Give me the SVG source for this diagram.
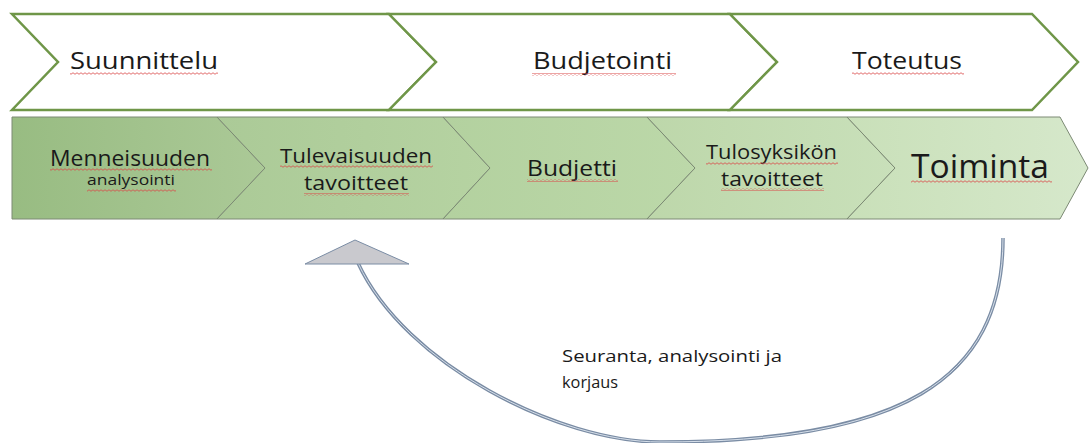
<svg xmlns="http://www.w3.org/2000/svg" width="1089" height="443" viewBox="0 0 1089 443">
<style>
.top{fill:#ffffff;stroke:#6f9648;stroke-width:2.5;stroke-linejoin:miter}
.bot{stroke:#7c8a74;stroke-width:1}
.t{font-family:"Open Sans","Liberation Sans",sans-serif;fill:#1a1a1a}
.sq{fill:url(#wavy)}
.conn{fill:none;stroke:#7a8ca4;stroke-width:3.5}
.connIn{fill:none;stroke:#d6dfea;stroke-width:1}
</style>
<defs>
<pattern id="wavy" patternUnits="userSpaceOnUse" width="4" height="3">
<path d="M0,1.5 Q1,0 2,1.5 T4,1.5" fill="none" stroke="#d94848" stroke-width="0.8"/>
</pattern>
<linearGradient id="g1" x1="0" y1="0" x2="1" y2="0"><stop offset="0" stop-color="#98bc82"/><stop offset="1" stop-color="#abc997"/></linearGradient>
<linearGradient id="g2" x1="0" y1="0" x2="1" y2="0"><stop offset="0" stop-color="#abca97"/><stop offset="1" stop-color="#b6d3a2"/></linearGradient>
<linearGradient id="g3" x1="0" y1="0" x2="1" y2="0"><stop offset="0" stop-color="#b3d19f"/><stop offset="1" stop-color="#bcd8a9"/></linearGradient>
<linearGradient id="g4" x1="0" y1="0" x2="1" y2="0"><stop offset="0" stop-color="#bdd7aa"/><stop offset="1" stop-color="#c9e0ba"/></linearGradient>
<linearGradient id="g5" x1="0" y1="0" x2="1" y2="0"><stop offset="0" stop-color="#c9e0b9"/><stop offset="1" stop-color="#d6e8cb"/></linearGradient>
</defs>
<rect width="1089" height="443" fill="#ffffff"/>

<g id="suunnittelu">
<polygon class="top" points="12,14 389,14 436,62 389,110 12,110 58,62"/>
<text class="t" x="70" y="69" font-size="24" textLength="148" lengthAdjust="spacingAndGlyphs">Suunnittelu</text>
<rect class="sq" x="70" y="72" width="148" height="3"/>
</g>
<g id="budjetointi">
<polygon class="top" points="389,14 730,14 777,62 730,110 389,110 436,62"/>
<text class="t" x="533" y="69" font-size="24" textLength="139" lengthAdjust="spacingAndGlyphs">Budjetointi</text>
<rect class="sq" x="532" y="73" width="144" height="3"/>
</g>
<g id="toteutus">
<polygon class="top" points="730,14 1032,14 1078,62 1032,110 730,110 777,62"/>
<text class="t" x="852" y="69" font-size="24" textLength="110" lengthAdjust="spacingAndGlyphs">Toteutus</text>
<rect class="sq" x="852" y="72" width="112" height="3"/>
</g>

<g id="menneisuuden">
<polygon class="bot" fill="url(#g1)" points="12,117 217,117 265,168 217,219 12,219"/>
<text class="t" x="50" y="166" font-size="21" textLength="160" lengthAdjust="spacingAndGlyphs">Menneisuuden</text>
<rect class="sq" x="50" y="168" width="162" height="3"/>
<text class="t" x="87" y="185" font-size="14.5" textLength="88" lengthAdjust="spacingAndGlyphs">analysointi</text>
<rect class="sq" x="87" y="189" width="89" height="3"/>
</g>
<g id="tulevaisuuden">
<polygon class="bot" fill="url(#g2)" points="217,117 443,117 490,168 443,219 217,219 265,168"/>
<text class="t" x="280" y="163" font-size="20" textLength="152" lengthAdjust="spacingAndGlyphs">Tulevaisuuden</text>
<rect class="sq" x="280" y="165" width="153" height="3"/>
<text class="t" x="304" y="190" font-size="20" textLength="104" lengthAdjust="spacingAndGlyphs">tavoitteet</text>
<rect class="sq" x="304" y="193" width="105" height="3"/>
</g>
<g id="budjetti">
<polygon class="bot" fill="url(#g3)" points="443,117 647,117 695,168 647,219 443,219 490,168"/>
<text class="t" x="527" y="176" font-size="21" textLength="90" lengthAdjust="spacingAndGlyphs">Budjetti</text>
<rect class="sq" x="527" y="179" width="91" height="3"/>
</g>
<g id="tulosyksikon">
<polygon class="bot" fill="url(#g4)" points="647,117 847,117 895,168 847,219 647,219 695,168"/>
<text class="t" x="706" y="159" font-size="19.5" textLength="131" lengthAdjust="spacingAndGlyphs">Tulosyksikön</text>
<rect class="sq" x="706" y="162" width="132" height="3"/>
<text class="t" x="721" y="186" font-size="19.5" textLength="102" lengthAdjust="spacingAndGlyphs">tavoitteet</text>
<rect class="sq" x="721" y="188" width="103" height="3"/>
</g>
<g id="toiminta">
<polygon class="bot" fill="url(#g5)" points="847,117 1060,117 1088,168 1060,219 847,219 895,168"/>
<text class="t" x="911" y="178" font-size="32" textLength="138" lengthAdjust="spacingAndGlyphs">Toiminta</text>
<rect class="sq" x="911" y="180" width="141" height="3"/>
</g>

<g id="connectors">
<path class="conn" d="M1003,238 C1003,381 900,442 660,442 C560,442 405,365 358,263"/>
<path class="connIn" d="M1003,238 C1003,381 900,442 660,442 C560,442 405,365 358,263"/>
<polygon points="355,240 305,264 409,264" fill="#c9c9ce" stroke="#7a8ca4" stroke-width="1"/>
</g>

<g id="label">
<text class="t" x="562" y="362" font-size="17" textLength="220" lengthAdjust="spacingAndGlyphs">Seuranta, analysointi ja</text>
<text class="t" x="562" y="388" font-size="17" textLength="56" lengthAdjust="spacingAndGlyphs">korjaus</text>
</g>
</svg>
